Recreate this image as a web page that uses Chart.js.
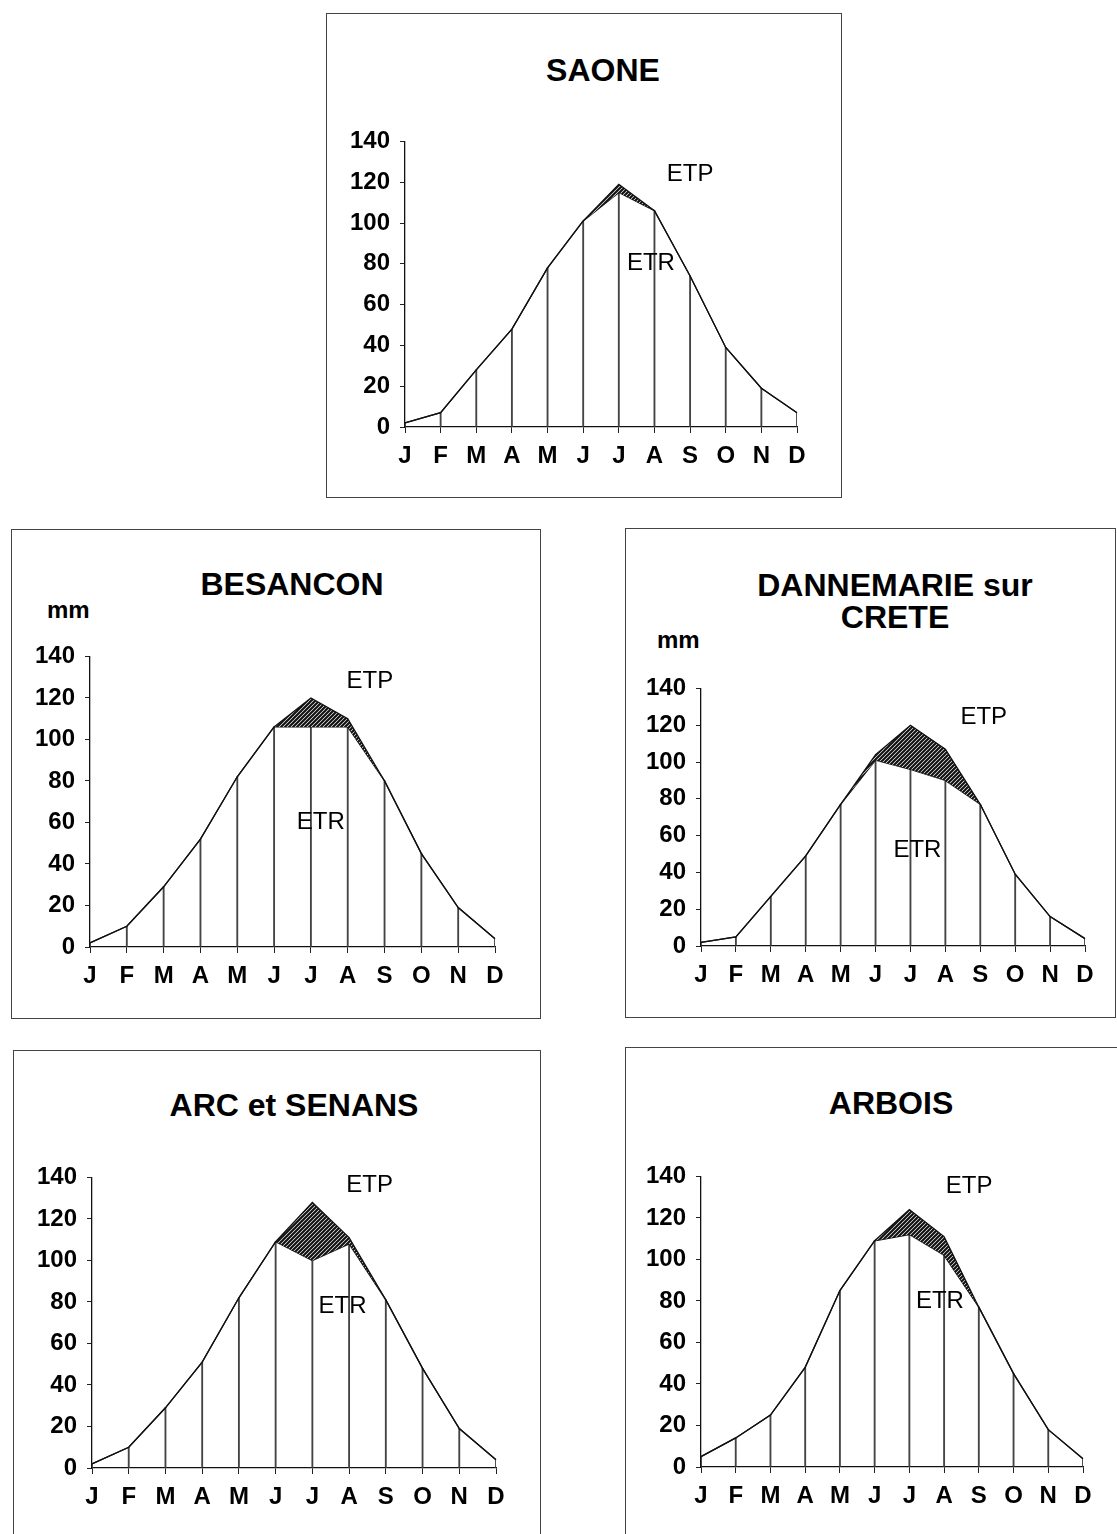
<!DOCTYPE html>
<html>
<head>
<meta charset="utf-8">
<script src="https://cdn.jsdelivr.net/npm/chart.js@4.4.1/dist/chart.umd.min.js"></script>
<style>
body{margin:0;background:#fff;width:1117px;height:1534px;position:relative;overflow:hidden;font-family:"Liberation Sans",Arial,sans-serif}
.box{position:absolute;border:1px solid #444;box-sizing:border-box}
.ttl{position:absolute;width:420px;font-weight:bold;font-size:32px;line-height:33px;text-align:center;white-space:nowrap;color:#000}
.mm{position:absolute;font-weight:bold;font-size:24px;line-height:24px;color:#000}
canvas{position:absolute}
</style>
</head>
<body>

<div class="box" style="left:326px;top:13px;width:516px;height:485px"></div>
<div class="box" style="left:11px;top:529px;width:530px;height:490px"></div>
<div class="box" style="left:625px;top:528px;width:491px;height:490px"></div>
<div class="box" style="left:13px;top:1050px;width:528px;height:500px"></div>
<div class="box" style="left:625px;top:1047px;width:500px;height:500px"></div>

<div class="ttl" style="left:393px;top:54px">SAONE</div>
<div class="ttl" style="left:82px;top:568px">BESANCON</div>
<div class="ttl" style="left:685px;top:569px;line-height:32px">DANNEMARIE sur<br>CRETE</div>
<div class="ttl" style="left:84px;top:1089px">ARC et SENANS</div>
<div class="ttl" style="left:681px;top:1087px">ARBOIS</div>

<div class="mm" style="left:47px;top:598px">mm</div>
<div class="mm" style="left:657px;top:628px">mm</div>

<script>
// months + y ticks
var months = ['J','F','M','A','M','J','J','A','S','O','N','D'];
var yTicks = [0, 20, 40, 60, 80, 100, 120, 140];

// ETP / ETR (mm)
var saoneEtp = [2, 7, 28, 48, 78, 101, 119, 106, 74, 39, 19, 7];
var saoneEtr = [2, 7, 28, 48, 78, 101, 115, 106, 74, 39, 19, 7];
var besanconEtp = [2, 10, 29, 52, 82, 106, 120, 110, 80, 45, 19, 4];
var besanconEtr = [2, 10, 29, 52, 82, 106, 106, 106, 80, 45, 19, 4];
var dannemarieEtp = [2, 5, 27, 49, 77, 104, 120, 107, 77, 39, 16, 4];
var dannemarieEtr = [2, 5, 27, 49, 77, 101, 96, 90, 77, 39, 16, 4];
var arcEtp = [2, 10, 29, 51, 82, 109, 128, 111, 81, 48, 19, 4];
var arcEtr = [2, 10, 29, 51, 82, 109, 100, 108, 81, 48, 19, 4];
var arboisEtp = [5, 14, 25, 48, 85, 109, 124, 111, 77, 45, 18, 4];
var arboisEtr = [5, 14, 25, 48, 85, 109, 112, 102, 77, 45, 18, 4];

var FONT = '"Liberation Sans", Arial, sans-serif';
var YW = 70, PR = 25, PT = 20, XH = 50;

function hatch() {
  var pc = document.createElement('canvas');
  pc.width = 4; pc.height = 4;
  var g = pc.getContext('2d');
  g.fillStyle = '#fff'; g.fillRect(0, 0, 4, 4);
  g.strokeStyle = '#111'; g.lineWidth = 2.2;
  g.beginPath();
  g.moveTo(0, 4); g.lineTo(4, 0);
  g.moveTo(-1, 1); g.lineTo(1, -1);
  g.moveTo(3, 5); g.lineTo(5, 3);
  g.stroke();
  return g.createPattern(pc, 'repeat');
}

// ETP / ETR words placed in data coordinates
var notes = {
  id: 'notes',
  afterDatasetsDraw: function(chart, args, opts) {
    var ctx = chart.ctx, xs = chart.scales.x, ys = chart.scales.y;
    ctx.save();
    ctx.font = '24px ' + FONT;
    ctx.fillStyle = '#000';
    ctx.textAlign = 'center';
    ctx.textBaseline = 'middle';
    (opts.items || []).forEach(function(it) {
      ctx.fillText(it.text, xs.getPixelForValue(it.x), ys.getPixelForValue(it.y));
    });
    ctx.restore();
  }
};

function panel(p, etp, etr) {
  var c = document.createElement('canvas');
  c.width = p.dx - p.ax + YW + PR;
  c.height = p.zero - p.top + PT + XH;
  c.style.left = (p.ax - YW) + 'px';
  c.style.top = (p.top - PT) + 'px';
  document.body.appendChild(c);

  new Chart(c, {
    type: 'line',
    data: {
      labels: months,
      datasets: [
        {label: 'ETP', data: etp, borderColor: '#111', borderWidth: 1.3, pointRadius: 0, tension: 0, fill: 1, backgroundColor: hatch()},
        {label: 'ETR', data: etr, borderColor: '#111', borderWidth: 1.3, pointRadius: 0, tension: 0, fill: false},
        {type: 'bar', label: 'ETR', data: etr, backgroundColor: '#444', barThickness: 1.2}
      ]
    },
    options: {
      responsive: false,
      animation: false,
      layout: {padding: {top: PT, right: PR, left: 0, bottom: 0}},
      plugins: {legend: {display: false}, tooltip: {enabled: false}, notes: {items: p.notes}},
      scales: {
        x: {
          type: 'category', offset: false,
          grid: {offset: false, drawOnChartArea: false, tickLength: 6, color: '#222'},
          border: {color: '#111', width: 1.3},
          ticks: {autoSkip: false, maxRotation: 0, padding: 9, color: '#000', font: {family: FONT, size: 24, weight: 'bold'}},
          afterFit: function(s) { s.height = XH; }
        },
        y: {
          min: yTicks[0], max: yTicks[yTicks.length - 1],
          grid: {drawOnChartArea: false, tickLength: 5, color: '#222'},
          border: {color: '#111', width: 1.3},
          ticks: {stepSize: yTicks[1] - yTicks[0], padding: 10, color: '#000', font: {family: FONT, size: 24, weight: 'bold'}},
          afterFit: function(s) { s.width = YW; }
        }
      }
    },
    plugins: [notes]
  });
}

panel({ax: 405, dx: 797, top: 137, zero: 427,
  notes: [{text: 'ETP', x: 8.0, y: 124}, {text: 'ETR', x: 6.9, y: 80}]}, saoneEtp, saoneEtr);
panel({ax: 90, dx: 495, top: 652, zero: 947,
  notes: [{text: 'ETP', x: 7.6, y: 128}, {text: 'ETR', x: 6.27, y: 60}]}, besanconEtp, besanconEtr);
panel({ax: 701, dx: 1085, top: 684, zero: 946,
  notes: [{text: 'ETP', x: 8.1, y: 124}, {text: 'ETR', x: 6.2, y: 52}]}, dannemarieEtp, dannemarieEtr);
panel({ax: 92, dx: 496, top: 1173, zero: 1468,
  notes: [{text: 'ETP', x: 7.56, y: 136}, {text: 'ETR', x: 6.82, y: 78}]}, arcEtp, arcEtr);
panel({ax: 701, dx: 1083, top: 1172, zero: 1467,
  notes: [{text: 'ETP', x: 7.72, y: 135}, {text: 'ETR', x: 6.88, y: 80}]}, arboisEtp, arboisEtr);
</script>
</body>
</html>
